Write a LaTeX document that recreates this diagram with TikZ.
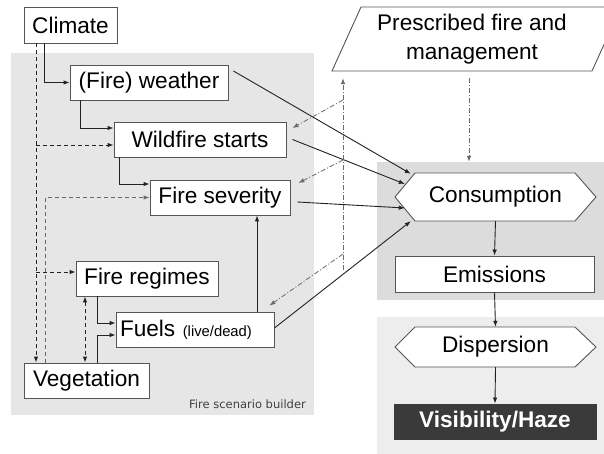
\documentclass[tikz,border=0pt]{standalone}
\usepackage{fontspec}
\setmainfont{Liberation Sans}
\newfontfamily\fsbfont{DejaVu Sans}
\usetikzlibrary{arrows.meta,calc}
\definecolor{panelA}{HTML}{E6E6E6}
\definecolor{panelB}{HTML}{DCDCDC}
\definecolor{panelC}{HTML}{EDEDED}
\definecolor{boxgray}{HTML}{555555}
\definecolor{linegray}{HTML}{222222}
\definecolor{dashgray}{HTML}{6A6A6A}
\definecolor{hazefill}{HTML}{3A3A3A}
\begin{document}
\begin{tikzpicture}[x=1pt,y=-1pt,
  box/.style={draw=boxgray, line width=0.9pt, fill=white, inner sep=0pt,
    font=\fontsize{22.6}{27}\selectfont, text=black},
  hexn/.style={inner sep=0pt, font=\fontsize{22.6}{27}\selectfont, text=black},
  shapeline/.style={draw=boxgray, line width=0.9pt, fill=white},
  arr/.style={draw=linegray, line width=0.9pt, -{Latex[length=6pt,width=4.5pt]}},
  darr/.style={draw=linegray, line width=0.9pt, dash pattern=on 4pt off 3pt, -{Latex[length=6pt,width=4.5pt]}},
  ddarr/.style={draw=dashgray, line width=0.8pt, dash pattern=on 5pt off 2pt on 1pt off 2pt, -{Latex[length=6pt,width=4.5pt]}},
  panel/.style={draw=none}]
\clip (0,0) rectangle (604,454);
\fill[white] (0,0) rectangle (604,454);

% panels
\fill[panelA] (11,53) rectangle (314,415);
\fill[panelB] (377,162) rectangle (604,300);
\fill[panelC] (377,317) rectangle (604,454);
\node[anchor=east, inner sep=0pt, font=\fsbfont\fontsize{11.5}{13}\selectfont, text=black!75] (fsb) at (306,404) {Fire scenario builder};

% left boxes
\node[box, minimum width=93pt, minimum height=36pt] (clim) at (70.5,25) {Climate};
\node[box, minimum width=158pt, minimum height=35pt] (wea) at (149,82.5) {(Fire) weather};
\node[box, minimum width=172pt, minimum height=35pt] (wild) at (200,139.5) {Wildfire starts};
\node[box, minimum width=140pt, minimum height=35pt] (sev) at (220,197.5) {Fire severity};
\node[box, minimum width=142pt, minimum height=35pt] (reg) at (147,278.5) {Fire regimes};
\node[box, minimum width=158pt, minimum height=35pt, text width=150pt, align=left] (fuel) at (195,329.5) {Fuels {\fontsize{14.8}{16}\selectfont (live/dead)}};
\node[box, minimum width=125pt, minimum height=35pt] (veg) at (86.5,380.5) {Vegetation};

% prescribed fire parallelogram
\path[shapeline] (332,71) -- (361,7) -- (621,7) -- (592,71) -- cycle;
\node[hexn, minimum height=64pt, align=center] (pres) at (472,39) {Prescribed fire and\\[1.5pt]management};

% right chain
\path[shapeline] (395,197) -- (415,173) -- (575,173) -- (596,197) -- (575,221) -- (415,221) -- cycle;
\node[hexn, minimum width=201pt, minimum height=48pt] (cons) at (495.5,197) {Consumption};
\node[box, minimum width=199pt, minimum height=36pt] (emis) at (494.5,274) {Emissions};
\path[shapeline] (395,347) -- (415,327) -- (575,327) -- (596,347) -- (575,367) -- (415,367) -- cycle;
\node[hexn, minimum width=201pt, minimum height=40pt] (disp) at (495.5,347) {Dispersion};
\node[box, fill=hazefill, draw=hazefill, text=white, font=\bfseries\fontsize{22.6}{27}\selectfont, minimum width=202pt, minimum height=35pt] (vis) at (495,421.5) {Visibility/Haze};

% solid orthogonal connectors
\draw[arr] ($(clim.south)+(-26.5,0)$) |- (wea.west);
\draw[arr] ($(wea.south)+(-69,0)$) |- ($(wild.west)+(0,-11.5)$);
\draw[arr] ($(wild.south)+(-81,0)$) |- ($(sev.west)+(0,-13.5)$);
\draw[arr] ($(reg.south)+(-50,0)$) |- ($(fuel.west)+(0,-6.5)$);
\draw[arr] ($(veg.north)+(10.5,0)$) |- ($(fuel.west)+(0,5.5)$);
\draw[arr] ($(fuel.north)+(62,0)$) coordinate (f1) -- (f1 |- sev.south);

% dashed connectors
\draw[darr] ($(clim.south)+(-34.5,0)$) -- ($(veg.north)+(-50.5,0)$);
\coordinate (b1) at (36,145);
\coordinate (b2) at (36,272);
\draw[darr] (b1) -- (b1 -| wild.west);
\draw[darr] (b2) -- (b2 -| reg.west);
\draw[darr, draw=dashgray] ($(veg.north)+(-41.5,0)$) |- (sev.west);
\draw[darr, {Latex[length=6pt,width=4.5pt]}-{Latex[length=6pt,width=4.5pt]}] ($(reg.south)+(-62,0)$) -- ($(veg.north)+(-1.5,0)$);

% diagonal connectors to consumption
\draw[arr] ($(wea.east)+(5,-11.5)$) -- ($(cons.north west)+(16,1)$);
\draw[arr] ($(wild.east)+(6,0)$) -- ($(cons.west)+(10,-13)$);
\draw[arr] ($(sev.east)+(7,4.5)$) -- ($(cons.west)+(10,11)$);
\draw[arr] ($(fuel.east)+(0,-1.5)$) -- ($(cons.south west)+(16,0)$);

% management dash-dot lines
\coordinate (m0) at (343,270);
\coordinate (m1) at (343,100);
\coordinate (m2) at (343,160);
\coordinate (m3) at (343,254);
\draw[ddarr, shorten >=7pt] (m0) -- (m0 |- pres.south);
\draw[ddarr] (m1) -- ($(wild.east)+(6,-11.5)$);
\draw[ddarr] (m2) -- ($(sev.east)+(8,-14.5)$);
\draw[ddarr] (m3) -- ($(fuel.north east)+(-5,-6)$);
\draw[ddarr] ($(pres.south)+(-3,7)$) -- ($(cons.north)+(-26.5,-11)$);

% chain arrows
\draw[arr] (cons.south) -- (emis.north);
\draw[arr] (emis.south) -- (disp.north);
\draw[arr] (disp.south) -- (vis.north);
\end{tikzpicture}
\end{document}
